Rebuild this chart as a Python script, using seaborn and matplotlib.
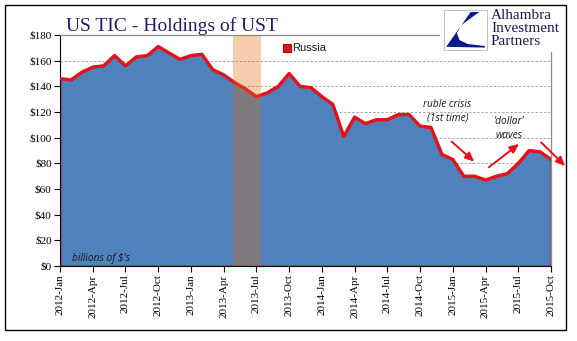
import numpy as np
import pandas as pd
import matplotlib
matplotlib.use("Agg")
import matplotlib.pyplot as plt
from matplotlib.patches import Rectangle, Polygon
import seaborn as sns

# Russia's holdings of US Treasuries, billions of dollars, monthly 2012-Jan .. 2015-Oct
months = pd.date_range("2012-01-01", "2015-10-01", freq="MS")
russia = [146, 145, 151, 155, 156, 164, 156, 163, 164, 171, 166, 161,
          164, 165, 153, 149, 143, 138, 132, 135, 140, 150, 140, 139,
          132, 126, 101, 116, 111, 114, 114, 118, 118, 109, 108, 87,
          83, 70, 70, 67, 70, 72, 80, 90, 89, 83]
y_ticks = [0, 20, 40, 60, 80, 100, 120, 140, 160, 180]
highlight = (15.85, 18.4)   # shaded period, in month positions

df = pd.DataFrame({"pos": np.arange(len(months)), "value": russia})
tick_pos = list(range(0, len(months), 3))
tick_labels = [months[i].strftime("%Y-%b") for i in tick_pos]

sns.set_theme(style="white")
plt.rcParams["font.family"] = ["Liberation Serif", "DejaVu Serif"]

fig = plt.figure(figsize=(5.77, 3.41), dpi=100)
ax = fig.add_axes([60 / 577, 1 - 266 / 341, 491 / 577, 231 / 341])

blue = "#4F81BD"
red = "#E3121B"

for v in y_ticks[1:-1]:
    ax.axhline(v, color="#9A9A9A", lw=0.6, ls=(0, (3, 2)), zorder=0)

ax.fill_between(df["pos"], 0, df["value"], facecolor=blue,
                edgecolor=red, linewidth=1.4, zorder=2)
sns.lineplot(data=df, x="pos", y="value", ax=ax, color=red, lw=2.4,
             zorder=3, legend=False)
ax.axvspan(*highlight, color="#E36C09", alpha=0.33, lw=0, zorder=4)

ax.set_xlim(0, len(months) - 1)
ax.set_ylim(0, 180)
ax.set_yticks(y_ticks)
ax.set_yticklabels([f"${v}" for v in y_ticks], fontsize=8)
ax.set_xticks(tick_pos)
ax.set_xticklabels(tick_labels, rotation=90, fontsize=8)
ax.tick_params(axis="both", direction="out", length=4, width=0.8,
               colors="black", pad=2, left=True, bottom=True)
ax.set_xlabel("")
ax.set_ylabel("")
for side in ("left", "bottom"):
    ax.spines[side].set_color("black")
    ax.spines[side].set_linewidth(0.8)
for side in ("top", "right"):
    ax.spines[side].set_color("#8C8C8C")
    ax.spines[side].set_linewidth(0.9)

# legend entry
ax.plot([20.8], [170], marker="s", ms=6, color=red, mec="#B00010",
        mew=0.8, ls="none", zorder=5)
ax.text(21.3, 170, "Russia", fontsize=8, va="center", ha="left",
        family=["Liberation Sans", "DejaVu Sans"], color="#1a1a1a")

# annotations
note_font = dict(family=["Open Sans", "DejaVu Sans"], style="italic",
                 fontsize=7.3, color="#1a1a1a")
ax.text(1.1, 6.2, "billions of $'s", ha="left", va="center", zorder=6,
        **note_font)
ax.text(35.5, 120.8, "ruble crisis\n(1st time)", ha="center", va="center",
        linespacing=1.35, **note_font)
ax.text(41.15, 107, "'dollar'\nwaves", ha="center", va="center",
        linespacing=1.35, **note_font)
arrow = dict(arrowstyle="-|>,head_length=0.45,head_width=0.2",
             color=red, lw=1.4, shrinkA=0, shrinkB=0)
for (x0, y0), (x1, y1) in [((35.9, 96.9), (37.97, 81.3)),
                           ((39.3, 76.9), (42.07, 95.1)),
                           ((44.09, 96.4), (46.3, 77.9))]:
    ax.annotate("", xy=(x1, y1), xytext=(x0, y0), arrowprops=arrow,
                annotation_clip=False, zorder=6)

# title
fig.text(66 / 577, 1 - 31 / 341, "US TIC - Holdings of UST", fontsize=14,
         color="#1F1F6E", ha="left", va="baseline")

# logo block
fig.patches.append(Rectangle((440 / 577, 1 - 52 / 341), 132 / 577, 45 / 341,
                             transform=fig.transFigure, facecolor="white",
                             edgecolor="none", zorder=10))
fig.patches.append(Rectangle((444 / 577, 1 - 50 / 341), 43 / 577, 40 / 341,
                             transform=fig.transFigure, facecolor="white",
                             edgecolor="#B8B8B8", lw=0.6, zorder=11))
icon = [(0.05, 0.08), (0.62, 0.95), (0.82, 0.95), (0.40, 0.62), (0.30, 0.42),
        (0.36, 0.25), (0.55, 0.15), (0.95, 0.10), (0.95, 0.06)]
fig.patches.append(Polygon([((444 + 43 * u) / 577, (1 - 50 / 341) + 40 * v / 341)
                            for u, v in icon], closed=True,
                           transform=fig.transFigure, facecolor="#0A1A8A",
                           edgecolor="none", zorder=12))
fig.text(491 / 577, 1 - 9 / 341, "Alhambra\nInvestment\nPartners",
         fontsize=11, linespacing=0.98, color="#1B1B4E", ha="left",
         va="top", zorder=13)

# outer frame
fig.patches.append(Rectangle((5 / 577, 1 - 330 / 341), 561 / 577, 325 / 341,
                             transform=fig.transFigure, facecolor="none",
                             edgecolor="black", lw=1.0, zorder=20))

fig.savefig("out.png", dpi=100)
